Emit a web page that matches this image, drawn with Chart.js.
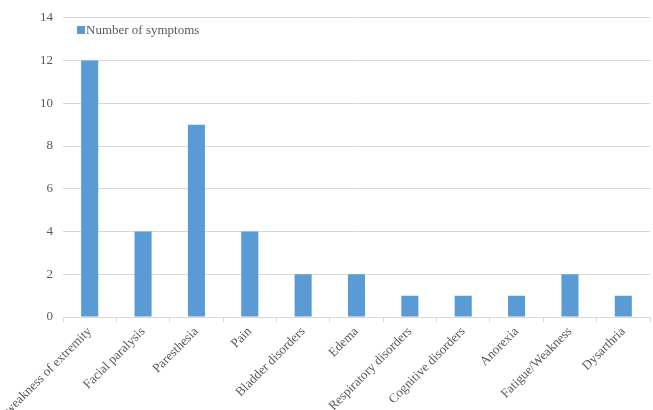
<!DOCTYPE html>
<html>
<head>
<meta charset="utf-8">
<script src="https://cdn.jsdelivr.net/npm/chart.js@4/dist/chart.umd.min.js"></script>
<style>
  html, body { margin: 0; padding: 0; background: #fff; }
  #wrap { width: 653px; height: 410px; }
</style>
</head>
<body>
<div id="wrap"><canvas id="grafico"></canvas></div>
<script>
    const categorias = [
        'weakness of extremity', 'Facial paralysis', 'Paresthesia', 'Pain',
        'Bladder disorders', 'Edema', 'Respiratory disorders', 'Cognitive disorders',
        'Anorexia', 'Fatigue/Weakness', 'Dysarthria'
    ];
    const sintomas = [12, 4, 9, 4, 2, 2, 1, 1, 1, 2, 1];
    const serieNome = 'Number of symptoms';

    const fonte = "'Liberation Serif', 'Times New Roman', serif";

    // legenda desenhada dentro da área do gráfico
    const legendaInterna = {
        id: 'legendaInterna',
        afterDraw(chart) {
            const c = chart.ctx;
            const ds = chart.data.datasets[0];
            c.save();
            c.fillStyle = ds.backgroundColor;
            c.fillRect(77, 26, 8, 8);
            c.fillStyle = '#595959';
            c.font = '13px ' + fonte;
            c.textBaseline = 'middle';
            c.fillText(ds.label, 86, 30.5);
            c.restore();
        }
    };

    const ctx = document.getElementById('grafico');

    let chart = new Chart(ctx, {
        type: 'bar',
        data: {
            labels: categorias,
            datasets: [
                {
                    label: serieNome,
                    data: sintomas,
                    backgroundColor: '#5b9bd5',
                    borderWidth: 0,
                    categoryPercentage: 1,
                    barPercentage: 0.32
                }
            ]
        },
        options: {
            responsive: true,
            maintainAspectRatio: false,
            animation: false,
            layout: { padding: { top: 9, right: 3, left: 0, bottom: 0 } },
            plugins: {
                legend: { display: false },
                tooltip: { enabled: false }
            },
            scales: {
                y: {
                    min: 0,
                    max: 14,
                    ticks: {
                        stepSize: 2,
                        color: '#595959',
                        font: { family: fonte, size: 13 },
                        padding: 10
                    },
                    grid: {
                        color: '#d9d9d9',
                        drawTicks: false
                    },
                    border: { display: false },
                    afterFit(scale) { scale.width = 63; }
                },
                x: {
                    ticks: {
                        color: '#595959',
                        font: { family: fonte, size: 13 },
                        minRotation: 45,
                        maxRotation: 45,
                        autoSkip: false,
                        padding: 2
                    },
                    grid: {
                        offset: true,
                        drawOnChartArea: false,
                        drawTicks: true,
                        tickLength: 5,
                        color: '#d9d9d9'
                    },
                    border: { display: true, color: '#d9d9d9' },
                    afterFit(scale) { scale.height = 93; }
                }
            }
        },
        plugins: [legendaInterna]
    });
</script>
</body>
</html>
